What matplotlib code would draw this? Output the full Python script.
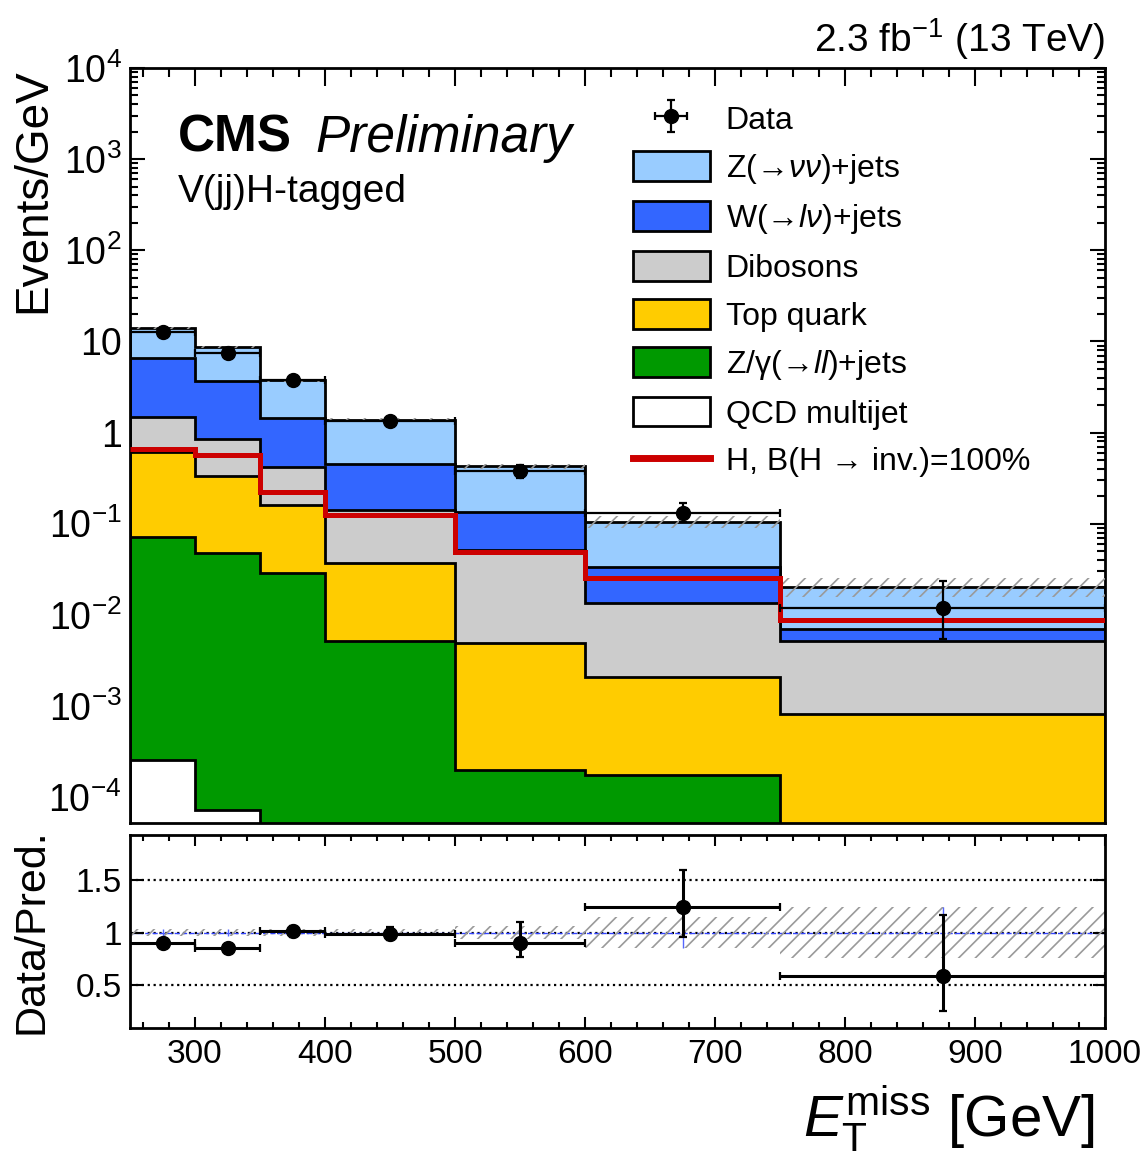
import numpy as np
import matplotlib
matplotlib.use('Agg')
import matplotlib.pyplot as plt
from matplotlib.patches import Patch
from matplotlib.lines import Line2D
from matplotlib.ticker import (MultipleLocator, FixedLocator, FuncFormatter,
                               NullFormatter, NullLocator)

plt.rcParams['font.family'] = ['Liberation Sans', 'DejaVu Sans']
plt.rcParams['mathtext.fontset'] = 'custom'
plt.rcParams['mathtext.rm'] = 'Liberation Sans'
plt.rcParams['mathtext.it'] = 'Liberation Sans:italic'
plt.rcParams['mathtext.bf'] = 'Liberation Sans:bold'
plt.rcParams['mathtext.sf'] = 'Liberation Sans'
plt.rcParams['hatch.linewidth'] = 1.2

# ---------------- data ----------------
bin_edges = [250, 300, 350, 400, 500, 600, 750, 1000]
bin_centers = [275, 325, 375, 450, 550, 675, 875]

qcd = [2.55e-4, 7.2e-5, 3.0e-5, 0, 0, 0, 0]
zll = [0.0713, 0.0482, 0.0285, 0.0052, 2.0e-4, 1.75e-4, 0]
top_quark = [0.538, 0.282, 0.1305, 0.032, 0.0047, 0.00189, 8.2e-4]
diboson = [0.89, 0.53, 0.257, 0.103, 0.0464, 0.0113, 0.00438]
wlnu = [5.1, 2.82, 1.044, 0.312, 0.0827, 0.0202, 0.0018]
znunu = [7.4, 5.02, 2.27, 0.928, 0.293, 0.0709, 0.0134]
signal = [0.66, 0.57, 0.222, 0.125, 0.049, 0.0251, 0.0088]

data = [12.6, 7.5, 3.8, 1.35, 0.38, 0.132, 0.0118]
data_err_lo = [0.5, 0.39, 0.28, 0.116, 0.06, 0.028, 0.0064]
data_err_hi = [0.5, 0.39, 0.28, 0.116, 0.06, 0.036, 0.0117]

bkg_rel_unc = [0.03, 0.03, 0.035, 0.035, 0.06, 0.15, 0.24]

ratio = [0.905, 0.853, 1.012, 0.99, 0.905, 1.244, 0.587]
ratio_err_lo = [0.03, 0.03, 0.05, 0.06, 0.135, 0.286, 0.334]
ratio_err_hi = [0.03, 0.03, 0.05, 0.06, 0.195, 0.356, 0.578]

y_tick_exponents = [-4, -3, -2, -1, 0, 1, 2, 3, 4]

labels = [r'Z(→$\nu\nu$)+jets', r'W(→$l\nu$)+jets', 'Dibosons',
          'Top quark', r'Z/γ(→$ll$)+jets', 'QCD multijet']
colors = ['#99ccff', '#3366ff', '#cccccc', '#ffcc00', '#009900', '#ffffff']

# ---------------- figure ----------------
fig = plt.figure(figsize=(11.46, 11.52), dpi=100)
W, H = 1146.0, 1152.0
ax = fig.add_axes([130 / W, 1 - 823 / H, 975 / W, 755 / H])
axr = fig.add_axes([130 / W, 1 - 1028 / H, 975 / W, 193 / H])

edges = np.array(bin_edges, dtype=float)
centers = np.array(bin_centers, dtype=float)
halfw = np.diff(edges) / 2.0

# stack, bottom -> top
stack = np.array([qcd, zll, top_quark, diboson, wlnu, znunu])
cum = np.cumsum(stack, axis=0)
stack_colors = colors[::-1]  # bottom->top: qcd, zll, top, diboson, w, z
floor = 1e-9
for i in reversed(range(6)):
    vals = np.maximum(cum[i], floor)
    ax.stairs(vals, edges, baseline=floor, fill=True, facecolor=stack_colors[i],
              edgecolor='black', linewidth=2.0, zorder=2 + (5 - i) * 0.01)

total = cum[-1]
unc = np.array(bkg_rel_unc)
hatch_col = '#9a9a9a'
ax.stairs(total * (1 + unc), edges, baseline=total * (1 - unc), fill=True,
          facecolor='none', edgecolor=hatch_col, hatch='//', linewidth=0, zorder=3)

ax.stairs(signal, edges, baseline=None, color='#cc0000', linewidth=3.6, zorder=4)

eb = ax.errorbar(centers, data, xerr=halfw, yerr=[data_err_lo, data_err_hi], fmt='o',
                 color='black', ms=10, lw=1.6, capsize=3, capthick=1.6, zorder=5)

ax.set_xlim(250, 1000)
ax.set_yscale('log')
ax.set_ylim(5.2e-5, 1e4)

def ylab(v, pos):
    e = int(round(np.log10(v)))
    if e == 0:
        return '1'
    if e == 1:
        return '10'
    return r'$10^{%d}$' % e

major_y = [10.0 ** e for e in y_tick_exponents]
minor_y = [m * 10.0 ** e for e in range(-5, 4) for m in range(2, 10)
           if 5.2e-5 <= m * 10.0 ** e <= 1e4]
ax.yaxis.set_major_locator(FixedLocator(major_y))
ax.yaxis.set_minor_locator(FixedLocator(minor_y))
ax.yaxis.set_major_formatter(FuncFormatter(ylab))
ax.yaxis.set_minor_formatter(NullFormatter())
ax.xaxis.set_major_locator(MultipleLocator(100))
ax.xaxis.set_minor_locator(MultipleLocator(20))
ax.tick_params(axis='both', which='both', direction='in', top=True, right=True)
ax.tick_params(axis='x', which='major', length=13, width=1.5, labelbottom=False)
ax.tick_params(axis='x', which='minor', length=6.5, width=1.5)
ax.tick_params(axis='y', which='major', length=11, width=1.5, labelsize=27, pad=6)
ax.tick_params(axis='y', which='minor', length=6, width=1.5)
for s in ax.spines.values():
    s.set_linewidth(2.0)

ax.set_ylabel('Events/GeV', fontsize=33, loc='top')
ax.yaxis.set_label_coords(-0.077, 1.0)

# legend
handles = [eb] + [Patch(facecolor=c, edgecolor='black', linewidth=2) for c in colors] + \
          [Line2D([], [], color='#cc0000', lw=5)]
leg_labels = ['Data'] + labels + ['H, B(H → inv.)=100%']
leg = ax.legend(handles, leg_labels, loc='upper left', bbox_to_anchor=(0.516, 0.953),
                frameon=False, fontsize=23, handlelength=2.4, handleheight=1.05,
                labelspacing=0.475, handletextpad=0.5, borderpad=0, borderaxespad=0)

# texts
fig.text(178 / W, 1 - 152 / H, 'CMS', fontsize=37, fontweight='bold', ha='left', va='baseline')
fig.text(315 / W, 1 - 152 / H, 'Preliminary', fontsize=37, fontstyle='italic', ha='left', va='baseline')
fig.text(178 / W, 1 - 202 / H, 'V(jj)H-tagged', fontsize=28, ha='left', va='baseline')
fig.text(1105 / W, 1 - 52 / H, r'2.3 fb$^{\mathregular{-1}}$ (13 TeV)', fontsize=28,
         ha='right', va='baseline')

# ---------------- ratio panel ----------------
for yv in [0.5, 1.0, 1.5]:
    axr.axhline(yv, color='black', ls=':', lw=1.6, zorder=1)
axr.axhline(1.0, color='#3344ff', ls='--', lw=1.0, zorder=1.5)
axr.stairs(1 + unc, edges, baseline=1 - unc, fill=True, facecolor='none',
           edgecolor=hatch_col, hatch='//', linewidth=0, zorder=2)
axr.errorbar(centers, np.ones(len(centers)), yerr=unc, fmt='none', ecolor='#5566ff',
             lw=1.0, zorder=2.5)
axr.errorbar(centers, ratio, xerr=halfw, yerr=[ratio_err_lo, ratio_err_hi], fmt='o',
             color='black', ms=10, lw=2.2, capsize=3, capthick=1.6, zorder=5)

axr.set_xlim(250, 1000)
axr.set_ylim(0.09, 1.93)
axr.yaxis.set_major_locator(FixedLocator([0.5, 1.0, 1.5]))
axr.yaxis.set_minor_locator(NullLocator())
axr.yaxis.set_major_formatter(FuncFormatter(lambda v, p: '1' if abs(v - 1) < 1e-6 else ('%g' % v)))
axr.xaxis.set_major_locator(MultipleLocator(100))
axr.xaxis.set_minor_locator(MultipleLocator(20))
axr.tick_params(axis='both', which='both', direction='in', top=True, right=True)
axr.tick_params(axis='x', which='major', length=8, width=1.5, labelsize=24, pad=8)
axr.tick_params(axis='x', which='minor', length=4, width=1.5)
axr.tick_params(axis='y', which='major', length=9, width=1.5, labelsize=24, pad=6)
for s in axr.spines.values():
    s.set_linewidth(2.0)
axr.set_ylabel('Data/Pred.', fontsize=31)
axr.yaxis.set_label_coords(-0.08, 0.5)

fig.text(1095 / W, 1 - 1136 / H, r'$E_{\mathrm{T}}^{\mathrm{miss}}$ [GeV]', fontsize=42,
         ha='right', va='baseline')

fig.savefig('out.png', dpi=100)
